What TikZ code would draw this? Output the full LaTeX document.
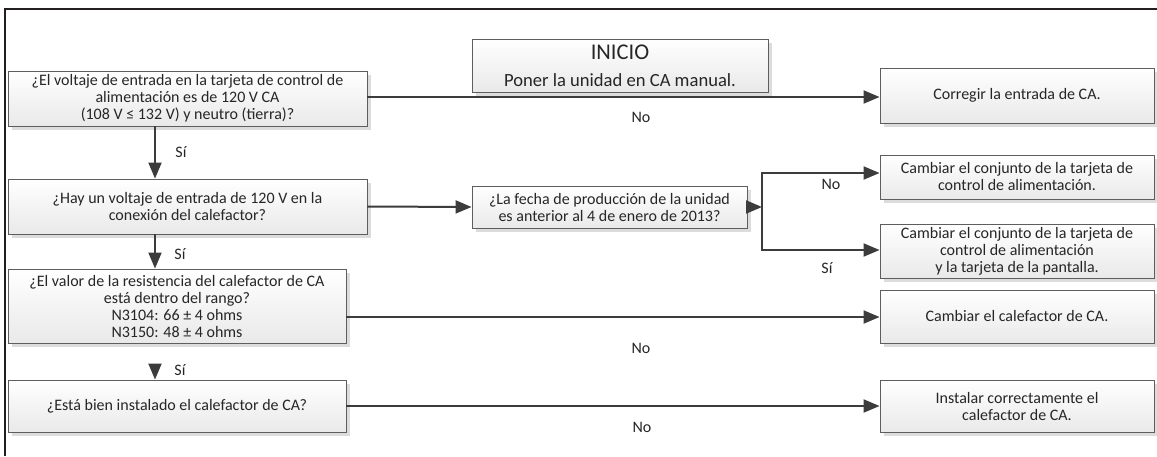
\documentclass[tikz,border=0pt]{standalone}
\usepackage{fontspec}
\setmainfont{Carlito}
\usetikzlibrary{arrows.meta,shadows}
\definecolor{linegray}{HTML}{3C3C3C}
\definecolor{boxgray}{HTML}{5E5E5E}
\definecolor{boxbottom}{HTML}{E9E9E9}
\definecolor{framec}{HTML}{231F20}
\definecolor{txt}{HTML}{262626}
\definecolor{shadowc}{HTML}{DCDCDC}
\newcommand\fsN{\fontsize{16}{17}\selectfont}
\tikzset{
  fbox/.style={draw=boxgray, line width=0.9pt, top color=white, bottom color=boxbottom,
    drop shadow={shadow xshift=4pt, shadow yshift=-4pt, fill=shadowc, opacity=1},
    inner sep=0pt, align=center, font=\fsN, text=txt},
  arr/.style={draw=linegray, line width=2pt, -{Triangle[length=16pt,width=13pt]}},
  seg/.style={draw=linegray, line width=2pt, line cap=rect},
  lbl/.style={font=\fsN, text=txt, inner sep=0pt},
  framel/.style={draw=framec, line width=2.5pt}
}
\begin{document}
\begin{tikzpicture}[x=1pt,y=-1pt]
\useasboundingbox (0,0) rectangle (1157,456);
\fill[white] (0,0) rectangle (1157,456);
% frame
\coordinate (f1) at (5,456);
\coordinate (f2) at (5,9);
\coordinate (f3) at (1157,9);
\draw[framel] (f1) -- (f2) -- (f3);

% left column
\node[fbox, minimum width=359pt, minimum height=55pt] (B1) at (187.5,98.5)
  {¿El voltaje de entrada en la tarjeta de control de\\alimentación es de 120 V CA\\(108 V ≤ 132 V) y neutro (tierra)?};
\node[fbox, minimum width=359pt, minimum height=55pt] (B2) at (187.5,206.5)
  {¿Hay un voltaje de entrada de 120 V en la\\conexión del calefactor?};
\node[fbox, minimum width=338pt, minimum height=74pt] (B3) at (177,306)
  {¿El valor de la resistencia del calefactor de CA\\está dentro del rango?\\N3104: 66 ± 4 ohms\\N3150: 48 ± 4 ohms};
\node[fbox, minimum width=338pt, minimum height=52pt] (B4) at (177,406)
  {¿Está bien instalado el calefactor de CA?};

% start
\node[fbox, minimum width=296pt, minimum height=53pt, font=\fontsize{18.6}{20}\selectfont] (S) at (620,65.5)
  {{\fontsize{22.5}{22}\selectfont INICIO}\\[7pt]Poner la unidad en CA manual.};

% middle
\node[fbox, minimum width=275pt, minimum height=42pt] (F) at (609.5,207)
  {¿La fecha de producción de la unidad\\es anterior al 4 de enero de 2013?};

% right column
\node[fbox, minimum width=274pt, minimum height=55pt] (R1) at (1017,95.5) {Corregir la entrada de CA.};
\node[fbox, minimum width=274pt, minimum height=44pt] (R2) at (1017,177)
  {Cambiar el conjunto de la tarjeta de\\control de alimentación.};
\node[fbox, minimum width=274pt, minimum height=54pt] (R3) at (1017,251)
  {Cambiar el conjunto de la tarjeta de\\control de alimentación\\y la tarjeta de la pantalla.};
\node[fbox, minimum width=274pt, minimum height=53pt] (R4) at (1017,316.5) {Cambiar el calefactor de CA.};
\node[fbox, minimum width=274pt, minimum height=52pt] (R5) at (1017,406)
  {Instalar correctamente el\\calefactor de CA.};

% helper coordinates
\coordinate (vx) at (155,0);
\coordinate (y1) at (0,97);
\coordinate (y3) at (0,317);
\coordinate (bt) at (762,173);
\coordinate (bb) at (762,250);
\coordinate (s3) at (155,365);

% connectors
\draw[arr] (B1.east |- y1) -- (R1.west |- y1);
\draw[arr] (vx |- B1.south) -- (vx |- B2.north);
\draw[arr] (B2.east) -- (F.west);
\draw[arr] (F.east) -- (bt |- F.east);
\draw[seg] (bb) -- (bt);
\draw[arr] (bt) -- (R2.west |- bt);
\draw[arr] (bb) -- (R3.west |- bb);
\draw[arr] (vx |- B2.south) -- (vx |- B3.north);
\draw[arr] (B3.east |- y3) -- (R4.west |- y3);
\draw[arr] (s3) -- (vx |- B4.north);
\draw[arr] (B4.east) -- (R5.west);

% labels
\node[lbl] (n1) at (641,117) {No};
\node[lbl] (s1) at (181,152) {Sí};
\node[lbl] (s2) at (180,254) {Sí};
\node[lbl] (n2) at (831,184) {No};
\node[lbl] (s4) at (827,268) {Sí};
\node[lbl] (n3) at (641,348) {No};
\node[lbl] (s5) at (180,370) {Sí};
\node[lbl] (n4) at (642,427) {No};
\end{tikzpicture}
\end{document}
